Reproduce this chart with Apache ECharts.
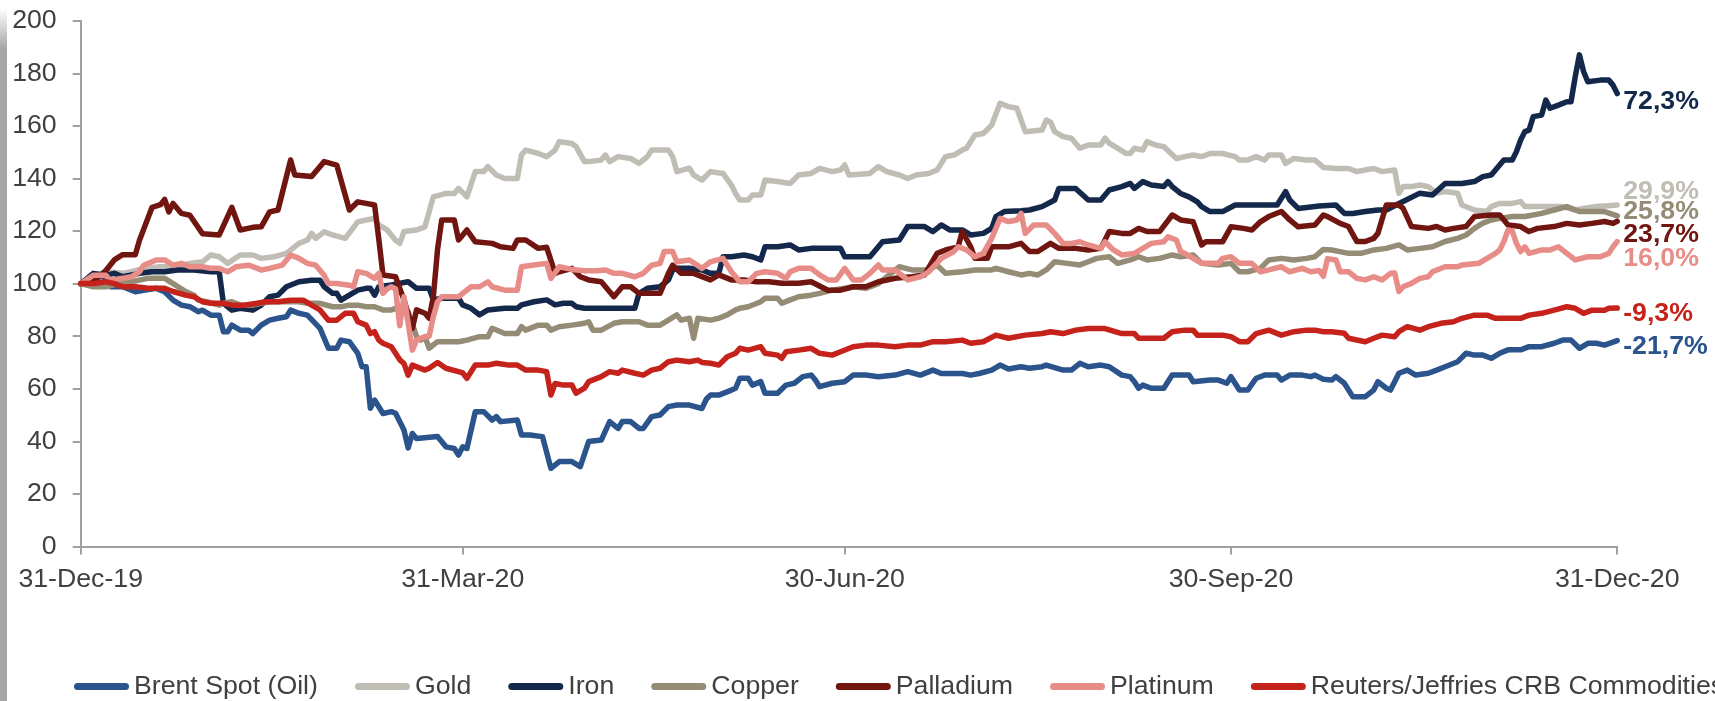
<!DOCTYPE html>
<html>
<head>
<meta charset="utf-8">
<script src="https://cdn.jsdelivr.net/npm/echarts@6/dist/echarts.min.js"></script>
<style>
  html, body { margin: 0; padding: 0; background: #ffffff; }
  #chart { width: 1715px; height: 701px; }
</style>
</head>
<body>
<div id="chart"></div>
<script>
// Commodity performance in 2020, rebased to 100 on 31-Dec-2019.
const seriesNames = ['Brent Spot (Oil)', 'Gold', 'Iron', 'Copper', 'Palladium', 'Platinum', 'Reuters/Jeffries CRB Commodities'];
const seriesColors = ['#2B538C', '#C0BDB5', '#13284A', '#958C75', '#701510', '#E88C88', '#C5221B'];

const tickDates  = ['2019-12-31', '2020-03-31', '2020-06-30', '2020-09-30', '2020-12-31'];
const tickLabels = ['31-Dec-19', '31-Mar-20', '30-Jun-20', '30-Sep-20', '31-Dec-20'];

// Each point: [days since 31-Dec-2019, index level]
const brent = [[0,100],[3,103.2],[5,103.2],[7,98.8],[10,98.8],[13,96.9],[15,97.5],[18,98.2],[20,96.9],[22,93.7],[24,91.8],[26,91.2],[28,89.3],[29,89.9],[31,88],[33,88],[34,81.7],[35,81.7],[36,84.2],[38,82.3],[40,82.3],[41,81],[43,84.2],[45,86.1],[47,86.8],[49,87.4],[50,89.9],[52,88.7],[54,88],[57,83],[59,75.4],[61,75.4],[62,78.5],[64,77.9],[66,73.5],[67,68.4],[68,68.4],[69,52.6],[70,55.7],[72,50.6],[74,51.3],[75,50.7],[77,44.3],[78,37.5],[79,43],[80,41.1],[85,41.8],[87,37.9],[89,37.3],[90,34.8],[91,37.9],[92,37.3],[94,51.3],[96,51.3],[98,48.1],[99,49.4],[100,47.5],[104,48.1],[105,42.4],[107,42.4],[110,41.8],[112,29.7],[114,32.3],[117,32.3],[119,30.4],[121,39.9],[124,40.5],[126,47.5],[128,44.9],[129,47.5],[131,47.5],[133,44.9],[134,44.9],[136,49.4],[138,50],[140,53.2],[142,53.8],[145,53.8],[148,52.5],[149,56],[150,57.6],[152,57.6],[155,59.5],[156,60.2],[157,64],[159,64],[160,61.4],[162,62.7],[163,58.3],[166,58.3],[168,61.4],[170,62.1],[172,64.6],[174,65.2],[175,63.3],[176,60.8],[179,62.1],[182,62.7],[184,65.2],[187,65.2],[190,64.6],[194,65.2],[197,66.5],[200,65.2],[203,67.1],[205,65.8],[210,65.8],[212,65.2],[214,65.8],[217,67.1],[219,69],[221,67.5],[224,68.4],[226,67.8],[229,68.4],[230,69],[234,67.1],[236,67.1],[238,69.7],[240,68.4],[243,69],[245,68.4],[248,65.2],[250,64.6],[251,62.7],[252,60.2],[253,61.4],[255,60.2],[258,60.2],[260,65.2],[264,65.2],[265,62.7],[269,63.3],[271,63.3],[273,62.1],[274,64.6],[276,59.5],[278,59.5],[280,64],[282,65.2],[285,65.2],[286,63.3],[288,65.2],[291,65.2],[293,64.6],[294,65.2],[296,63.6],[298,63.3],[299,64.6],[301,62.1],[303,57],[306,57],[308,59.5],[309,62.7],[311,60.2],[312,59.5],[314,65.9],[316,67.1],[318,65.2],[321,65.9],[323,67.1],[325,68.4],[328,70.3],[330,73.5],[332,72.8],[334,72.8],[336,71.6],[338,73.5],[340,74.8],[343,74.8],[345,76],[348,76],[351,77.3],[353,78.5],[355,78.5],[357,75.4],[359,77.3],[361,77.3],[363,76.6],[366,78.3]];

const gold = [[0,100],[3,102.6],[6,104.5],[10,103.9],[12,104.5],[15,105.8],[19,106.4],[23,106.4],[26,107.7],[29,108.3],[31,110.9],[33,110.2],[35,107.7],[38,110.9],[41,110.9],[43,109.6],[46,110.2],[49,111.5],[52,115.3],[54,116.6],[55,119.1],[56,117.2],[58,119.7],[60,118.5],[63,117.2],[66,123.5],[68,124.2],[70,124.8],[71,122.3],[73,120.4],[75,116.5],[76,115.3],[77,119.8],[80,120.4],[82,121.6],[84,133],[87,134.3],[89,134.3],[90,136.2],[92,133],[94,142.6],[96,142.6],[97,144.5],[99,141.3],[101,140],[104,140],[105,148.9],[106,150.8],[109,149.5],[111,148.3],[113,150.8],[114,154],[117,153.3],[118,152.1],[120,146.4],[121,146.4],[124,147],[125,148.9],[126,146.4],[128,148.3],[131,147.6],[133,145.7],[135,148.3],[136,150.8],[140,150.8],[141,148.3],[142,142.6],[145,143.9],[146,141.3],[148,139.4],[150,142.6],[153,141.9],[155,137.5],[156,134.3],[157,131.8],[159,131.8],[160,133.7],[162,133.7],[163,139.4],[166,138.8],[169,138.1],[171,141.3],[174,141.9],[176,143.8],[179,142.6],[181,143.2],[182,145.1],[183,141.3],[188,141.9],[190,144.5],[192,142.6],[195,141.3],[197,140],[199,141.3],[202,141.9],[204,143.2],[206,148.3],[208,148.9],[210,150.8],[211,151.5],[213,156.5],[215,157.1],[217,160.3],[219,168.6],[221,167.3],[223,166.7],[225,157.8],[229,158.4],[230,162.2],[231,161.5],[232,157.8],[234,155.9],[236,155.3],[238,151.5],[240,152.7],[243,152.7],[244,155.3],[245,153.4],[249,149.5],[250,149.5],[251,151.5],[253,150.8],[254,154],[256,152.7],[258,152.1],[261,147.6],[263,148.3],[265,148.9],[267,148.3],[269,149.5],[272,149.5],[275,148.3],[276,147],[278,147],[280,148.3],[282,147],[283,148.9],[286,148.9],[287,145.7],[289,147.6],[292,147],[294,147],[296,144.2],[299,143.8],[302,143.8],[304,142.6],[306,143.2],[308,143.8],[310,142.6],[313,143.2],[314,134.4],[315,136.9],[317,136.9],[319,137.5],[321,136.9],[323,134.4],[325,135],[328,134.4],[329,129.9],[332,128],[335,127.4],[336,129.3],[338,130.5],[341,130.5],[343,131.2],[344,129.3],[348,129.3],[351,129.3],[353,129.3],[356,128],[358,128.6],[361,129.3],[364,129.6],[366,129.9]];

const iron = [[0,100],[3,103.9],[6,103.2],[8,103.9],[10,102.6],[14,103.9],[17,104.5],[20,104.5],[23,105.2],[27,105.2],[31,104.5],[33,104.5],[34,92.5],[36,89.9],[38,90.6],[41,89.9],[43,91.8],[45,95],[47,95.6],[49,98.8],[52,100.7],[55,101.3],[57,101.3],[58,98.8],[60,96.3],[61,96.3],[62,93.7],[64,95.6],[66,97.5],[68,98.2],[69,98.2],[70,95.6],[71,98.8],[74,99.5],[78,100.7],[80,98.2],[83,98.2],[84,93.8],[86,94.4],[90,94.4],[91,91.9],[93,90.6],[95,88.1],[97,90],[101,90.6],[104,90.6],[105,91.9],[108,93.1],[111,93.8],[113,91.9],[115,92.5],[117,92.5],[118,91.2],[120,90.6],[132,90.6],[133,96.3],[135,98.2],[138,98.8],[140,101.4],[141,105.2],[142,105.8],[145,105.8],[148,105.2],[150,103.9],[152,103.9],[153,110.2],[155,110.2],[158,110.9],[160,110.2],[162,109],[163,114],[166,114],[169,114.7],[171,112.8],[174,113.4],[181,113.4],[182,110.2],[188,110.2],[191,115.9],[195,116.6],[197,121.7],[201,121.7],[203,119.8],[205,122.3],[207,120.4],[210,120.4],[212,118.5],[215,119.1],[217,121],[218,125.5],[220,127.4],[224,127.7],[226,128],[229,129.3],[232,131.8],[233,136.2],[237,136.2],[240,131.8],[243,131.8],[245,135.6],[248,136.9],[250,138.1],[251,136.2],[253,138.8],[255,137.5],[258,136.9],[259,138.8],[260,136.9],[262,134.3],[264,133],[266,131.1],[267,129.3],[269,127.4],[272,127.4],[275,129.9],[285,129.9],[287,135],[288,131.8],[290,128.6],[295,129.5],[299,129.9],[301,126.7],[303,126.7],[306,127.4],[309,128],[311,128],[315,131.2],[319,134.4],[322,133.7],[325,138.1],[329,138.1],[332,138.8],[334,140.7],[336,141.3],[337,143.2],[339,147],[341,147],[342,150.2],[343,154.6],[344,157.8],[345,158.4],[346,163.5],[348,164.1],[349,169.8],[350,166.7],[352,167.9],[354,169.2],[355,169.2],[356,178.7],[357,187],[358,180.6],[359,176.8],[362,177.4],[364,177.4],[365,175.5],[366,172.3]];

const copper = [[0,100],[3,98.8],[6,98.8],[9,100],[12,100.7],[16,102],[20,102],[22,100],[25,97],[27,95.6],[28,93.7],[30,93.1],[33,91.8],[34,92.5],[36,93.1],[38,91.8],[41,91.8],[43,92.5],[45,93.1],[52,93.1],[54,92.5],[57,92.5],[60,91.2],[62,91.2],[64,91.8],[66,91.8],[68,91.2],[70,91.2],[72,90],[74,90],[75,90.6],[78,89.3],[80,79.8],[81,78.5],[82,79.8],[83,75.4],[85,77.9],[90,77.9],[92,78.5],[95,79.8],[97,79.8],[98,83],[101,81],[104,81],[105,83.6],[106,82.3],[109,84.2],[111,84.2],[112,82.3],[114,83.6],[117,84.2],[120,84.9],[121,85.5],[122,82.3],[124,82.3],[127,84.9],[129,85.5],[133,85.5],[135,84.2],[138,84.2],[140,86.1],[142,88.1],[143,86.1],[145,86.8],[146,79.2],[147,86.8],[150,86.1],[152,86.8],[154,88.1],[156,90],[157,90.6],[159,91.2],[162,93.1],[163,94.4],[166,94.4],[167,92.5],[169,93.8],[171,95],[174,95.6],[176,96.3],[179,97.5],[182,98.2],[184,98.8],[187,98.2],[190,100],[192,102.6],[195,106.4],[198,105.2],[202,105.2],[204,107],[206,103.9],[210,104.5],[213,105.2],[217,105.2],[218,105.8],[221,104.5],[224,103.3],[226,103.9],[228,103.3],[230,105.2],[232,108.3],[235,107.7],[238,107.1],[240,108.3],[242,109.6],[245,110.2],[247,107.7],[250,109],[252,110.2],[254,109],[257,109.6],[260,110.9],[262,110.2],[265,110.9],[267,107.7],[271,107.1],[274,107.7],[276,104.5],[278,104.5],[281,105.8],[283,109],[286,109.6],[289,109],[292,109.6],[294,110.2],[296,113],[298,112.8],[302,111.5],[305,111.5],[308,112.8],[311,113.4],[314,114.7],[316,112.8],[319,113.4],[322,114],[325,116],[328,117.2],[330,118.5],[332,121],[334,123],[336,124.2],[338,124.8],[341,125.5],[344,125.5],[348,126.7],[351,128],[354,129.3],[357,127.4],[360,127.4],[363,127.4],[366,125.8]];

const palladium = [[0,100],[4,102],[6,105],[8,109],[10,111],[13,111],[14,116.5],[17,129],[19,130],[20,132],[21,127.3],[22,130.5],[24,126.7],[26,126],[29,119],[33,118.5],[36,129],[38,120.4],[41,121.4],[43,121.6],[45,127.3],[47,128],[50,147],[51,141.3],[55,140.7],[58,146.4],[61,145.1],[64,128],[66,131.1],[68,130.5],[70,129.9],[71,117],[72,103.3],[75,102.6],[77,93.8],[79,83],[80,90],[82,88.7],[83,86.8],[84,95],[85,113],[86,124.2],[89,124.2],[90,116.6],[92,120.4],[94,115.9],[98,115.3],[100,114],[103,113.4],[104,116.6],[106,116.6],[109,113.4],[111,113.8],[113,103.9],[114,104.5],[117,105.8],[119,102.6],[121,101.4],[124,100.7],[127,95],[129,98.8],[131,98.8],[133,96.3],[138,96.3],[140,103.9],[141,107],[143,103.9],[146,103.9],[150,101.4],[152,103.3],[155,101.4],[158,101.4],[161,100.7],[164,100.7],[167,100.1],[171,100.1],[174,100.7],[178,97.5],[181,97.5],[184,98.8],[187,98.8],[190,100.7],[194,102],[198,102.6],[201,103.3],[204,111.5],[206,112.8],[209,114],[210,119.8],[212,114],[213,109.6],[216,109.6],[217,114],[221,114],[224,115.3],[226,112.2],[228,112.2],[231,115.3],[233,113.4],[237,113.4],[240,112.8],[243,113.4],[245,119.8],[248,119.1],[250,119.1],[252,121],[254,119.8],[257,119.8],[260,126.1],[262,124.2],[265,123.5],[267,114.7],[268,115.9],[272,115.9],[274,121.6],[277,121],[279,120.4],[281,123.5],[283,125.5],[286,127.4],[288,124.2],[290,121.6],[294,122.3],[296,126.1],[297,125.5],[300,122.9],[302,121.7],[304,116],[306,116],[308,117.2],[309,119.1],[311,129.9],[314,129.9],[315,128.6],[317,121.7],[321,121],[323,121.7],[325,120.4],[327,121],[330,121.7],[332,125.5],[336,126.1],[338,126.1],[340,122.3],[343,121.7],[345,119.8],[347,121],[351,121.7],[354,122.9],[357,122.3],[360,122.9],[363,123.6],[365,122.9],[366,123.7]];

const platinum = [[0,100],[3,103.2],[6,103.2],[7,101.3],[10,102],[12,102.6],[14,104.5],[15,107],[18,109],[20,109],[22,107],[24,107.7],[26,106.4],[29,106.4],[31,105.8],[33,105.8],[35,104.5],[37,106.4],[40,107],[43,105.2],[45,105.8],[48,107],[50,110.9],[52,109.6],[54,107.7],[56,107],[58,103.2],[59,100],[61,100],[64,99.4],[65,98.8],[66,104.5],[68,103.9],[70,102],[71,103.9],[72,96.3],[73,98],[74,98.8],[75,98],[76,84],[77,95],[78,85],[79,74.7],[80,78.5],[81,79.2],[82,79.8],[83,80],[84,87.4],[85,93.1],[86,95],[90,95],[91,96.3],[93,98.8],[95,98.8],[97,100.7],[98,98.8],[101,97.5],[104,97.5],[105,106.4],[108,107.1],[110,107.5],[111,107.7],[112,102],[114,106.4],[117,105.4],[120,104.9],[123,104.9],[125,105.2],[127,103.9],[129,103.9],[132,102.6],[134,103.9],[136,107],[138,107.7],[139,112.2],[141,112.2],[142,108.3],[145,109],[148,105.8],[150,108.3],[153,109.6],[155,104.5],[157,100.7],[159,100.7],[161,103.9],[163,104.5],[166,103.9],[168,102],[169,104.5],[171,105.8],[174,105.8],[176,103.3],[178,101.4],[180,101.4],[182,105.8],[184,101.4],[186,101.4],[188,103.9],[190,107.1],[191,105.2],[194,105.2],[197,101.4],[200,102.6],[202,104.5],[205,109.6],[208,112.2],[209,114],[211,112.8],[213,110.2],[215,111.5],[217,117.2],[219,124.8],[221,123.6],[223,124.2],[224,126.7],[225,119.1],[227,122.3],[230,122.3],[232,119.1],[234,115.3],[236,115.3],[238,115.9],[240,114.7],[243,113.4],[244,115.9],[246,112.8],[248,110.9],[251,111.5],[253,113.4],[255,115.3],[258,115.9],[259,117.8],[261,116.6],[262,112.2],[263,111.5],[265,109.6],[267,107.7],[271,107.7],[272,109.6],[274,110.2],[276,107.7],[279,107.7],[281,104.5],[283,105.2],[286,106.4],[288,104.5],[291,105.8],[293,104.5],[295,105],[296,102.8],[297,109.5],[299,109],[300,104.5],[302,104.5],[304,102],[306,101.4],[308,102.6],[310,101.4],[312,103.9],[313,104],[314,97],[315,98.8],[317,100.1],[319,102],[321,102.6],[322,104.5],[325,106.4],[328,106.4],[329,107.1],[333,107.7],[335,109.6],[337,111.5],[338,112.8],[339,116],[340,120.4],[341,120],[342,115.3],[343,112.2],[344,114],[345,111.5],[348,112.8],[350,112.8],[352,114],[354,111.5],[356,109],[359,110.2],[362,110.2],[364,111.5],[365,114],[366,116]];

const crb = [[0,100],[3,100],[6,100.7],[8,100],[10,98.8],[13,98.8],[16,98.2],[20,98.2],[22,97],[25,95.6],[27,95],[29,93.1],[31,92.5],[34,92.5],[36,91.8],[39,91.8],[42,92.5],[44,93.1],[47,93.1],[50,93.7],[53,93.7],[55,91.8],[57,90],[59,86.1],[61,86.1],[63,88.7],[65,88.7],[66,85.5],[68,84.2],[69,81],[70,81.7],[71,78.5],[72,77.3],[74,76],[75,73.5],[76,71],[77,69.6],[78,65.2],[79,69],[82,67.1],[83,67.8],[85,70],[87,67.8],[90,66.5],[91,66],[92,64],[94,69],[97,69],[99,69.7],[102,69],[104,69],[106,67.1],[109,67.1],[111,66.5],[112,57.6],[113,62],[115,61.4],[117,61.4],[118,58.3],[120,60.2],[121,62.7],[124,64.6],[126,66.5],[128,65.9],[129,67.1],[132,65.9],[134,65.2],[136,67.1],[138,67.8],[140,70.3],[142,70.9],[145,70.3],[147,70.9],[148,70],[150,69.7],[152,69],[154,72.2],[156,73.5],[157,75.4],[159,74.7],[162,76],[163,73.5],[166,72.8],[167,71.6],[168,74.1],[171,74.7],[174,75.4],[176,73.5],[179,72.8],[181,74.1],[184,76],[187,76.6],[190,76.6],[194,76],[197,76.6],[200,76.6],[203,77.9],[206,77.9],[210,78.5],[212,77.3],[215,77.9],[218,80.4],[221,79.2],[225,80.4],[229,81],[231,81.7],[234,81],[237,82.3],[240,82.9],[244,82.9],[248,81],[251,81],[252,79.2],[258,79.2],[260,81.7],[263,82.3],[265,82.3],[266,80.4],[272,80.4],[274,79.8],[276,77.9],[278,77.9],[280,81],[283,82.3],[286,80.4],[289,81.7],[292,82.3],[294,82.3],[296,81.7],[298,81.7],[301,81.1],[302,79.2],[306,77.9],[308,79.2],[310,80.4],[313,79.8],[314,81.7],[316,83.6],[319,82.3],[321,83.6],[324,84.9],[327,85.5],[329,86.8],[332,88],[335,88],[337,86.8],[343,86.8],[345,88],[348,88.7],[351,89.9],[354,91.2],[356,90.6],[358,88.7],[360,89.9],[363,89.9],[364,90.6],[366,90.7]];

const seriesData = [brent, gold, iron, copper, palladium, platinum, crb];

// Daily category axis from 31-Dec-2019 to 31-Dec-2020
const categories = [];
for (let t = Date.UTC(2019, 11, 31); t <= Date.UTC(2020, 11, 31); t += 86400000) {
  categories.push(new Date(t).toISOString().slice(0, 10));
}

const FONT = "'Liberation Sans', Arial, Helvetica, sans-serif";
const TEXT_COLOR = '#404040';
const AXIS_COLOR = '#A0A0A0';

// Vertical nudges (px) for the year-to-date labels, in series order:
// Brent, Gold, Iron, Copper, Palladium, Platinum, CRB
const endLabelNudge = [6.1, -13.3, 8.2, -4.1, 13.7, 16.8, 5.3];

function pctLabel(v) {
  return (v - 100).toFixed(1).replace('.', ',') + '%';
}

const series = seriesNames.map((name, i) => {
  const pts = seriesData[i];
  const data = pts.map(([d, v], k) => {
    if (k < pts.length - 1) return [categories[d], v];
    // last point carries the year-to-date change label
    return {
      value: [categories[d], v],
      label: {
        show: true,
        position: 'right',
        distance: 6,
        offset: [0, endLabelNudge[i]],
        formatter: pctLabel(v),
        color: seriesColors[i],
        fontFamily: FONT,
        fontSize: 26.7,
        fontWeight: 'bold'
      }
    };
  });
  return {
    name: name,
    type: 'line',
    data: data,
    symbol: 'circle',
    symbolSize: 0,
    showSymbol: true,
    showAllSymbol: true,
    clip: false,
    silent: true,
    label: { show: false },
    lineStyle: { width: 5.5, color: seriesColors[i], join: 'round', cap: 'round' },
    itemStyle: { color: seriesColors[i] },
    emphasis: { disabled: true }
  };
});

const chart = echarts.init(document.getElementById('chart'), null, { renderer: 'canvas' });

chart.setOption({
  animation: false,
  backgroundColor: '#ffffff',
  textStyle: { fontFamily: FONT },
  grid: { left: 80.7, right: 97.8, top: 20.7, bottom: 154.5, containLabel: false, outerBoundsMode: 'none' },
  legend: {
    data: seriesNames,
    left: 74,
    top: 673,
    width: 2400,
    padding: 0,
    itemWidth: 55,
    itemHeight: 7,
    itemGap: 37,
    icon: 'path://M3.5,0L51.5,0A3.5,3.5,0,0,1,51.5,7L3.5,7A3.5,3.5,0,0,1,3.5,0Z',
    textStyle: { fontFamily: FONT, fontSize: 26.7, color: TEXT_COLOR },
    selectedMode: false
  },
  xAxis: {
    type: 'category',
    data: categories,
    boundaryGap: false,
    axisLine: { lineStyle: { color: AXIS_COLOR, width: 2 } },
    axisTick: {
      show: true,
      length: 8,
      interval: (idx, value) => tickDates.includes(value),
      lineStyle: { color: AXIS_COLOR, width: 2 }
    },
    axisLabel: {
      interval: (idx, value) => tickDates.includes(value),
      formatter: (value) => tickLabels[tickDates.indexOf(value)],
      fontFamily: FONT,
      fontSize: 26.7,
      color: TEXT_COLOR,
      margin: 20
    },
    splitLine: { show: false }
  },
  yAxis: {
    type: 'value',
    min: 0,
    max: 200,
    interval: 20,
    axisLine: { show: true, lineStyle: { color: AXIS_COLOR, width: 2 } },
    axisTick: { show: true, length: 8, lineStyle: { color: AXIS_COLOR, width: 2 } },
    axisLabel: { fontFamily: FONT, fontSize: 26.7, color: TEXT_COLOR, margin: 24 },
    splitLine: { show: false }
  },
  graphic: [{
    type: 'rect',
    silent: true,
    shape: { x: 0, y: 8, width: 7, height: 693 },
    style: {
      fill: new echarts.graphic.LinearGradient(0, 0, 0, 1, [
        { offset: 0, color: 'rgba(165,165,165,0)' },
        { offset: 0.06, color: '#A5A5A5' },
        { offset: 1, color: '#A5A5A5' }
      ])
    }
  }],
  series: series
});
</script>
</body>
</html>
